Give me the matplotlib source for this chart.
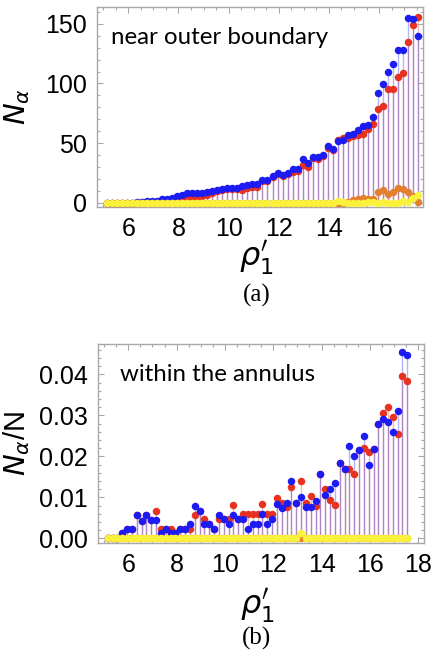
import numpy as np
import matplotlib
matplotlib.use("Agg")
import matplotlib.pyplot as plt
from matplotlib.ticker import MultipleLocator, FormatStrFormatter

# rho'_1 grid (same for both panels)
rho = np.round(5.15 + 0.2 * np.arange(63), 2)

# panel (a): N_alpha near outer boundary
blue_a = [0, 0, 0, 0, 0, 0.3, 0.5, 1, 1.2, 1.3, 1.5, 3, 3.5, 4.5, 5.5, 6.5,
          8, 8, 8, 8.5, 9, 10, 11, 12, 12.5, 12.5, 12.5, 14.5, 15, 16, 16,
          19, 19, 22.5, 25, 23, 25, 28.5, 28.5, 37, 33, 38.5, 38.5, 40, 48,
          45, 52, 52.5, 56.5, 57.5, 61, 64, 65.5, 72, 92, 99.5, 110, 116,
          128, 128, 154.5, 154, 140]
red_a = [0, 0, 0, 0, 0, 0, 0.2, 0.5, 0.7, 0.8, 1, 1.5, 2, 2.5, 3, 3.5,
         4.5, 5, 5, 5.5, 7, 8.5, 10, 11, 12, 12, 12, 11, 12.5, 13, 13,
         18, 18.5, 22, 24, 22.5, 24, 26, 27, 32, 30, 37.5, 36.5, 39, 46,
         44, 53, 54.5, 54.5, 56, 56.5, 57.5, 62, 66, 78.5, 81, 95, 95,
         105, 108.5, 135, 149, 156]
orange_a = [0] * 47 + [0.3, 1, 2.5, 3, 4.5, 3, 3.5, 9, 11, 7.5, 9.5, 12.8,
                       11.6, 9.5, 6, 0.8]
yellow_a = [0] * 46 + [1.5, 0.8, 0, 0, 0, 0, 0.8, 1, 0, 0.5, 0, 0, 0, 1.5,
                       0.5, 4.5, 6.5]

# panel (b): N_alpha / N within the annulus
blue_b = [0, 0, 0, 0.0014, 0.0024, 0.0024, 0.0057, 0.0043, 0.0057, 0.0045,
          0.0045, 0.0014, 0.0022, 0.0014, 0.0014, 0.0022, 0.0022, 0.0036,
          0.0080, 0.0068, 0.0036, 0.0036, 0.0024, 0.0058, 0.0047, 0.0036,
          0.0058, 0.0047, 0.0047, 0.0022, 0.0036, 0.0036, 0.0060, 0.0036,
          0.0047, 0.0085, 0.0074, 0.0087, 0.0140, 0.0087, 0.0101, 0.0076,
          0.0076, 0.0090, 0.0158, 0.0106, 0.0120, 0.0136, 0.0183, 0.0170,
          0.0225, 0.0200, 0.0216, 0.0250, 0.0180, 0.0217, 0.0280, 0.0290,
          0.0285, 0.0260, 0.0310, 0.0455, 0.0448]
red_b = [0, 0, 0, 0.0014, 0.0024, 0.0024, 0.0057, 0.0043, 0.0057, 0.0045,
         0.0067, 0.0022, 0.0022, 0.0022, 0.0012, 0.0022, 0.0022, 0.0022,
         0.0058, 0.0068, 0.0047, 0.0036, 0.0024, 0.0047, 0.0047, 0.0047,
         0.0082, 0.0047, 0.0060, 0.0060, 0.0060, 0.0060, 0.0085, 0.0060,
         0.0060, 0.0099, 0.0087, 0.0076, 0.0126, 0.0087, 0.0140, 0.0087,
         0.0103, 0.0080, 0.0158, 0.0120, 0.0093, 0.0082, 0.0183, 0.0170,
         0.0170, 0.0158, 0.0216, 0.0220, 0.0210, 0.0217, 0.0280, 0.0305,
         0.0320, 0.0295, 0.0254, 0.0397, 0.0385]
orange_b = [0] * 63
yellow_b = [0] * 40 + [0.0012] + [0] * 22

BLUE = "#1c1cf2"
RED = "#e6321f"
ORANGE = "#e3802f"
YELLOW = "#faf23a"
FRAME = "#a8a8a8"

plt.rcParams["font.family"] = ["Liberation Sans", "DejaVu Sans"]

fig = plt.figure(figsize=(4.36, 6.55), dpi=100)


def panel(rect, series, ylim, xlim, ymaj, ymin_, note, note_xy, ylab, cap,
          xlab_y, cap_y):
    ax = fig.add_axes(rect)
    # stems (filling to axis)
    for vals, c in series:
        ax.vlines(rho, 0, vals, color=c, alpha=0.33, lw=1.0, zorder=1)
    for vals, c in series:
        ax.plot(rho, vals, "o", color=c, ms=5.4, mew=0, zorder=3)
    ax.set_xlim(*xlim)
    ax.set_ylim(*ylim)
    ax.xaxis.set_major_locator(MultipleLocator(2))
    ax.xaxis.set_minor_locator(MultipleLocator(0.5))
    ax.yaxis.set_major_locator(MultipleLocator(ymaj))
    ax.yaxis.set_minor_locator(MultipleLocator(ymin_))
    ax.tick_params(which="both", direction="in", top=True, right=True,
                   color=FRAME, labelsize=18, width=0.8)
    ax.tick_params(which="major", length=4, pad=7)
    ax.tick_params(which="minor", length=2)
    for s in ax.spines.values():
        s.set_color(FRAME)
        s.set_linewidth(1.0)
    ax.text(note_xy[0], note_xy[1], note, transform=ax.transAxes,
            fontsize=17.3, family="Lato", va="center")
    ax.set_ylabel(ylab, fontsize=21)
    ax.yaxis.set_label_coords(-0.2, 0.5)
    ax.set_xlabel(r"$\rho_1'$", fontsize=23)
    ax.xaxis.set_label_coords(0.49, xlab_y)
    fig.text(0.588, cap_y, cap, ha="center", va="center", fontsize=18,
             family="Liberation Serif")
    return ax


panel([0.2225, 0.684, 0.7475, 0.3053],
      [(red_a, RED), (blue_a, BLUE), (orange_a, ORANGE), (yellow_a, YELLOW)],
      (-3.4, 164), (4.75, 17.75), 50, 10, "near outer boundary", (0.043, 0.85),
      r"$N_\alpha$", "(a)", -0.16, 1 - 295 / 655)

ax_b = panel([0.224, 0.1705, 0.749, 0.3043],
             [(red_b, RED), (blue_b, BLUE), (orange_b, ORANGE), (yellow_b, YELLOW)],
             (-0.0012, 0.0474), (4.73, 18.25), 0.01, 0.002, "within the annulus",
             (0.068, 0.845), r"$N_\alpha$/N", "(b)", -0.22, 1 - 638 / 655)
ax_b.yaxis.set_major_formatter(FormatStrFormatter("%.2f"))

fig.savefig("out.png", dpi=100)
